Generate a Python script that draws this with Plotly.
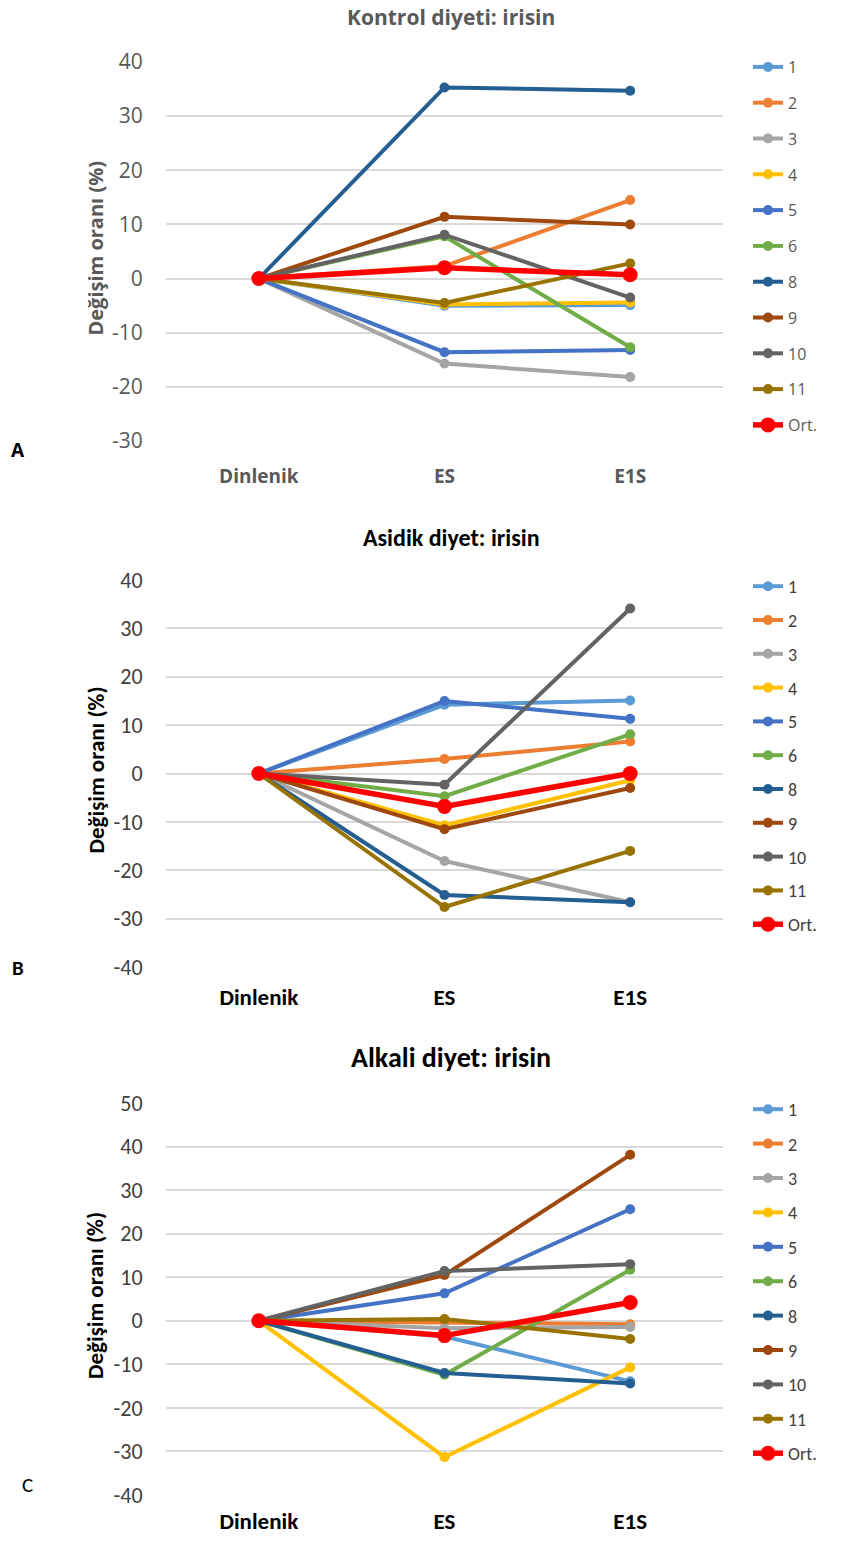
import plotly.graph_objects as go

categories = ["Dinlenik", "ES", "E1S"]
series_names = ["1", "2", "3", "4", "5", "6", "8", "9", "10", "11", "Ort."]
colors = ["#5B9BD5", "#ED7D31", "#A5A5A5", "#FFC000", "#4472C4", "#70AD47",
          "#255E91", "#9E480E", "#636363", "#997300", "#FF0000"]

# Panel A: Kontrol diyeti
kontrol = {
    "1": [0, -5.0, -4.9],
    "2": [0, 2.3, 14.5],
    "3": [0, -15.7, -18.2],
    "4": [0, -4.8, -4.4],
    "5": [0, -13.6, -13.2],
    "6": [0, 7.8, -12.7],
    "8": [0, 35.3, 34.7],
    "9": [0, 11.4, 10.0],
    "10": [0, 8.1, -3.5],
    "11": [0, -4.5, 2.8],
    "Ort.": [0, 2.0, 0.7],
}
# Panel B: Asidik diyet
asidik = {
    "1": [0, 14.2, 15.1],
    "2": [0, 3.0, 6.6],
    "3": [0, -18.1, -26.6],
    "4": [0, -10.7, -1.4],
    "5": [0, 15.0, 11.3],
    "6": [0, -4.7, 8.1],
    "8": [0, -25.1, -26.6],
    "9": [0, -11.5, -3.0],
    "10": [0, -2.3, 34.1],
    "11": [0, -27.6, -16.0],
    "Ort.": [0, -6.8, 0.0],
}
# Panel C: Alkali diyet
alkali = {
    "1": [0, -3.6, -13.9],
    "2": [0, -0.3, -0.8],
    "3": [0, -1.7, -1.4],
    "4": [0, -31.3, -10.7],
    "5": [0, 6.3, 25.6],
    "6": [0, -12.4, 11.7],
    "8": [0, -12.0, -14.4],
    "9": [0, 10.5, 38.1],
    "10": [0, 11.4, 13.0],
    "11": [0, 0.4, -4.2],
    "Ort.": [0, -3.4, 4.2],
}

titles = ["Kontrol diyeti: irisin", "Asidik diyet: irisin", "Alkali diyet: irisin"]
panel_letters = ["A", "B", "C"]
y_ranges = [[-30, 40], [-40, 40], [-40, 50]]
ytitle = "Değişim oranı (%)"

W, H = 842, 1544
panels_px = [(62, 441), (580, 967), (1103, 1495)]
x_left, x_right = 166, 723

def ydom(top, bottom):
    return [1 - bottom / H, 1 - top / H]

fig = go.Figure()
datasets = [kontrol, asidik, alkali]
legend_ids = ["legend", "legend2", "legend3"]
text_colors = ["#595959", "#404040", "#404040"]
title_colors = ["#595959", "#000000", "#000000"]
fontA = "Open Sans, Arial, sans-serif"
fontBC = "Carlito, Liberation Sans Narrow, Open Sans, sans-serif"

for p, data in enumerate(datasets):
    ax = "" if p == 0 else str(p + 1)
    for i, name in enumerate(series_names):
        is_avg = name == "Ort."
        fig.add_trace(go.Scatter(
            x=categories, y=data[name], name=name,
            mode="lines+markers",
            line=dict(color=colors[i], width=5.5 if is_avg else 4),
            marker=dict(color=colors[i], size=15 if is_avg else 10),
            xaxis="x" + ax, yaxis="y" + ax,
            legend=legend_ids[p], legendgroup=f"p{p}_{name}",
            showlegend=True,
        ))

layout = dict(
    width=W, height=H,
    margin=dict(l=0, r=0, t=0, b=0, pad=0),
    paper_bgcolor="white", plot_bgcolor="white",
    showlegend=True,
)

xtick_len = [18, 9, 5]
legend_gap = [12, 7.4, 8.0]
annotations = []
for p in range(3):
    ax = "" if p == 0 else str(p + 1)
    top, bot = panels_px[p]
    fam = fontA if p == 0 else fontBC
    tcol = text_colors[p]
    lo, hi = y_ranges[p]
    tvals = list(range(lo, hi + 1, 10))
    layout["xaxis" + ax] = dict(
        domain=[x_left / W, x_right / W], range=[-0.5, 2.5],
        type="category", categoryorder="array", categoryarray=categories,
        anchor="y" + ax, showgrid=False, showline=False, zeroline=False,
        automargin=False,
        ticks="outside", ticklen=xtick_len[p], tickcolor="rgba(0,0,0,0)",
        tickfont=dict(family=fam, size=19 if p == 0 else 23,
                      color="#595959" if p == 0 else "#000000", weight="bold"),
    )
    layout["yaxis" + ax] = dict(
        domain=ydom(top, bot), range=[lo, hi],
        tickmode="array", tickvals=tvals, ticktext=[str(v) for v in tvals],
        anchor="x" + ax, showgrid=True, gridcolor="#D9D9D9", gridwidth=1.5,
        zeroline=False, showline=False, automargin=False,
        ticks="outside", ticklen=18, tickcolor="rgba(0,0,0,0)",
        tickfont=dict(family=fam, size=21 if p == 0 else 22, color=tcol),
    )
    layout[legend_ids[p]] = dict(
        x=748 / W, y=1 - (top - 12) / H, xanchor="left", yanchor="top",
        font=dict(family=fam, size=16 if p == 0 else 18, color=tcol),
        tracegroupgap=legend_gap[p],
        bgcolor="rgba(0,0,0,0)", itemwidth=30,
    )
    title_y = [17, 537, 1057][p]
    annotations.append(dict(
        text=titles[p], x=451 / W, y=1 - title_y / H, xref="paper", yref="paper",
        showarrow=False, xanchor="center", yanchor="middle",
        font=dict(family=fam, size=[21, 24, 28][p], color=title_colors[p], weight="bold"),
    ))
    annotations.append(dict(
        text=ytitle, x=95 / W, y=1 - ((top + bot) / 2 - 3) / H, xref="paper", yref="paper",
        showarrow=False, textangle=-90, xanchor="center", yanchor="middle",
        font=dict(family=fam, size=20 if p == 0 else 23, color=title_colors[p], weight="bold"),
    ))
    lx, ly = [(18, 450), (18, 968), (27, 1485)][p]
    annotations.append(dict(
        text=panel_letters[p], x=lx / W, y=1 - ly / H, xref="paper", yref="paper",
        showarrow=False, xanchor="center", yanchor="middle",
        font=dict(family=fam, size=19 if p == 0 else 21, color="#000000",
                  weight="bold" if p < 2 else "normal"),
    ))

layout["annotations"] = annotations
fig.update_layout(**layout)
fig.write_html("out.html", config={"displayModeBar": False},
               post_script="document.body.style.margin='0';")
